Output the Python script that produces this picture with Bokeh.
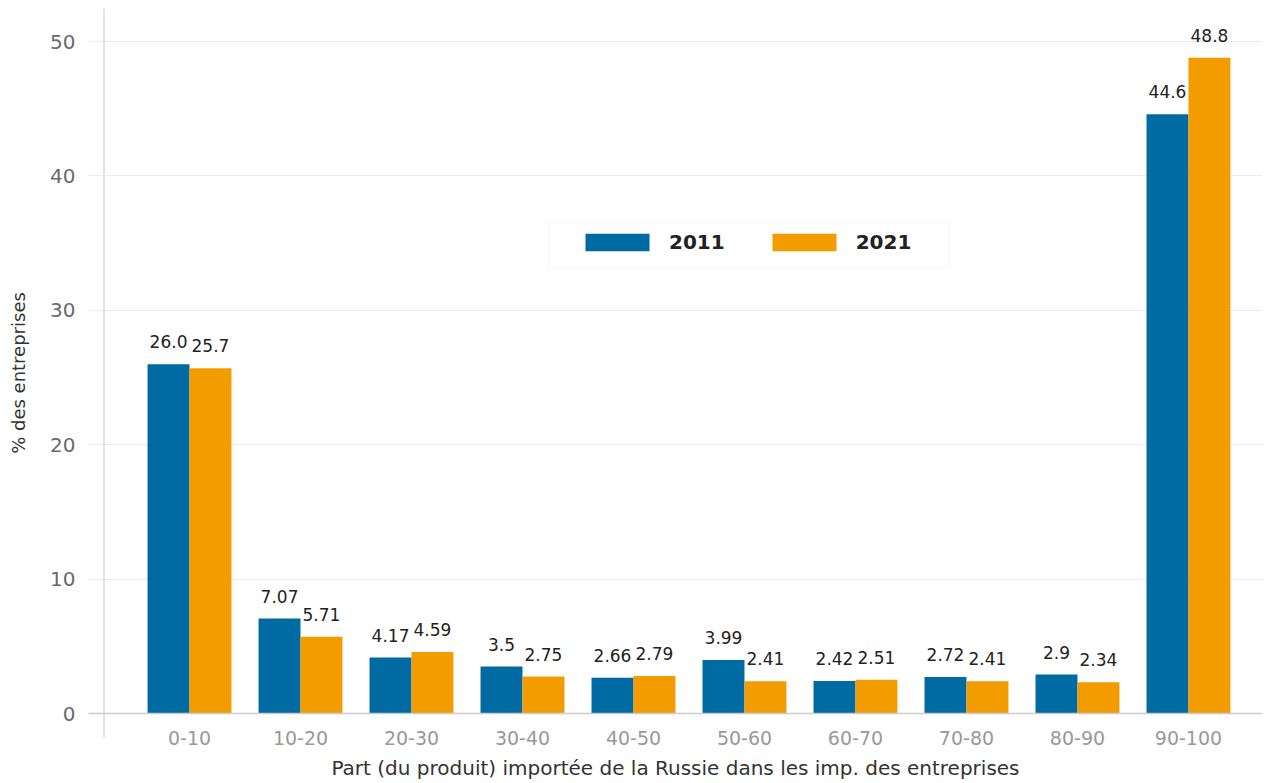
from bokeh.plotting import figure
from bokeh.models import (ColumnDataSource, FixedTicker, Span, Legend, LegendItem,
                          Range1d, BoxAnnotation)
from bokeh.transform import dodge
from bokeh.core.properties import value
from bokeh.embed import file_html
from bokeh.resources import INLINE

# ---- data ----
categories = ["0-10", "10-20", "20-30", "30-40", "40-50",
              "50-60", "60-70", "70-80", "80-90", "90-100"]
vals_2011 = [26.0, 7.07, 4.17, 3.5, 2.66, 3.99, 2.42, 2.72, 2.9, 44.6]
vals_2021 = [25.7, 5.71, 4.59, 2.75, 2.79, 2.41, 2.51, 2.41, 2.34, 48.8]
labels_2011 = ["26.0", "7.07", "4.17", "3.5", "2.66", "3.99", "2.42", "2.72", "2.9", "44.6"]
labels_2021 = ["25.7", "5.71", "4.59", "2.75", "2.79", "2.41", "2.51", "2.41", "2.34", "48.8"]
series_names = ["2011", "2021"]
y_ticks = [0, 10, 20, 30, 40, 50]
x_title = "Part (du produit) importée de la Russie dans les imp. des entreprises"
y_title = "% des entreprises"

BLUE = "#006AA2"
ORANGE = "#F39C00"
FONT = "DejaVu Sans"

idx = list(range(len(categories)))
src = ColumnDataSource(dict(idx=idx, v11=vals_2011, v21=vals_2021,
                            l11=labels_2011, l21=labels_2021))

p = figure(width=1272, height=783, output_backend="svg", toolbar_location=None,
           x_range=Range1d(-0.91, 9.667), y_range=Range1d(-1.78, 52.46),
           min_border_left=88, min_border_right=10, min_border_top=8, min_border_bottom=46)
p.outline_line_color = None
p.background_fill_color = "white"
p.border_fill_color = "white"

bw = 0.378
r11 = p.vbar(x=dodge("idx", -bw / 2, range=p.x_range), top="v11", width=bw, bottom=0,
             source=src, fill_color=BLUE, line_color=None)
r21 = p.vbar(x=dodge("idx", bw / 2, range=p.x_range), top="v21", width=bw, bottom=0,
             source=src, fill_color=ORANGE, line_color=None)

lab_font = value(FONT)
p.text(x=dodge("idx", -bw / 2, range=p.x_range), y="v11", text="l11", source=src,
       text_align="center", text_baseline="bottom", y_offset=-16,
       text_font=lab_font, text_font_size="17px", text_color="#222222")
p.text(x=dodge("idx", bw / 2, range=p.x_range), y="v21", text="l21", source=src,
       text_align="center", text_baseline="bottom", y_offset=-16,
       text_font=lab_font, text_font_size="17px", text_color="#222222")

# axes
p.xgrid.grid_line_color = None
p.ygrid.grid_line_color = "#EBEBEB"
p.ygrid.grid_line_width = 1
p.ygrid.ticker = FixedTicker(ticks=y_ticks)

p.yaxis.ticker = FixedTicker(ticks=y_ticks)
p.yaxis.axis_line_color = None
p.yaxis.major_tick_line_color = None
p.yaxis.minor_tick_line_color = None
p.yaxis.major_tick_out = 0
p.yaxis.major_tick_in = 0
p.yaxis.minor_tick_out = 0
p.yaxis.major_label_standoff = 13
p.yaxis.major_label_text_font = FONT
p.yaxis.major_label_text_font_size = "20px"
p.yaxis.major_label_text_color = "#6A6A6A"
p.yaxis.axis_label = y_title
p.yaxis.axis_label_text_font = FONT
p.yaxis.axis_label_text_font_style = "normal"
p.yaxis.axis_label_text_font_size = "18px"
p.yaxis.axis_label_text_color = "#333333"
p.yaxis.axis_label_standoff = 18

p.xaxis.ticker = FixedTicker(ticks=idx)
p.xaxis.major_label_overrides = {i: c for i, c in zip(idx, categories)}
p.xaxis.axis_line_color = None
p.xaxis.major_tick_line_color = None
p.xaxis.minor_tick_line_color = None
p.xaxis.major_tick_out = 0
p.xaxis.major_tick_in = 0
p.xaxis.minor_tick_out = 0
p.xaxis.major_label_standoff = -7
p.xaxis.major_label_text_font = FONT
p.xaxis.major_label_text_font_size = "19px"
p.xaxis.major_label_text_color = "#999999"
p.xaxis.axis_label = x_title
p.xaxis.axis_label_text_font = FONT
p.xaxis.axis_label_text_font_style = "normal"
p.xaxis.axis_label_text_font_size = "20px"
p.xaxis.axis_label_text_color = "#333333"
p.xaxis.axis_label_standoff = 8

# axis lines drawn as spans
p.add_layout(Span(location=-0.77, dimension="height", line_color="#E3E3E3", line_width=2))
p.add_layout(Span(location=0, dimension="width", line_color="#CCCCCC", line_width=1.5))

# legend box
p.add_layout(BoxAnnotation(left=460, right=860, bottom=470, top=515,
                           left_units="screen", right_units="screen",
                           bottom_units="screen", top_units="screen",
                           fill_color="white", fill_alpha=1,
                           line_color="#E3E3E3", line_width=1))

legend = Legend(items=[LegendItem(label=series_names[0], renderers=[r11]),
                       LegendItem(label=series_names[1], renderers=[r21])],
                orientation="horizontal", location=(489, 483),
                glyph_width=80, glyph_height=22, label_standoff=12, spacing=39,
                padding=11, margin=0,
                label_text_font=FONT, label_text_font_style="bold",
                label_text_font_size="20px", label_text_color="#222222",
                border_line_color=None, background_fill_alpha=0)
p.add_layout(legend)

open("out.html", "w").write(file_html(p, INLINE))
